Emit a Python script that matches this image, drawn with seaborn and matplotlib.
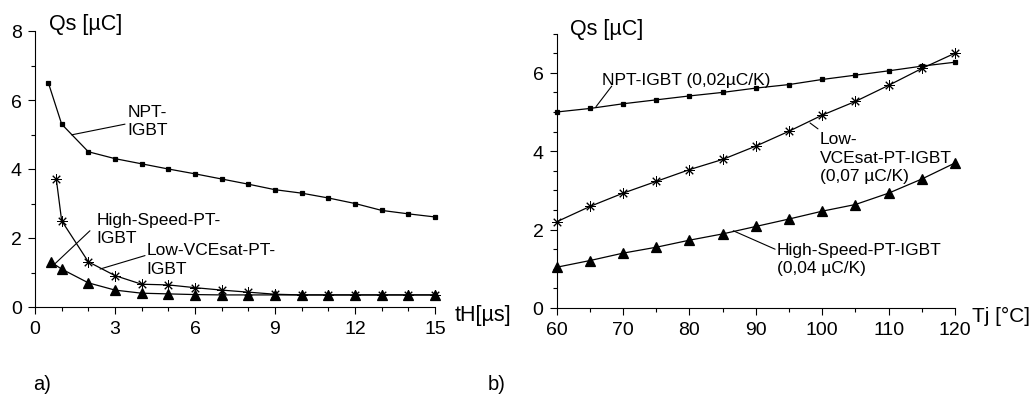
import matplotlib
matplotlib.use("Agg")
import matplotlib.pyplot as plt
import seaborn as sns
from matplotlib.ticker import MultipleLocator, FixedLocator

# ---------------- a) storage charge vs. hold time ----------------
th_npt = [0.5, 1, 2, 3, 4, 5, 6, 7, 8, 9, 10, 11, 12, 13, 14, 15]
qs_npt_th = [6.5, 5.3, 4.5, 4.3, 4.15, 4.0, 3.86, 3.71, 3.56, 3.40, 3.30, 3.16, 3.0, 2.80, 2.70, 2.61]

th_lowv = [0.8, 1, 2, 3, 4, 5, 6, 7, 8, 9, 10, 11, 12, 13, 14, 15]
qs_lowv_th = [3.7, 2.5, 1.31, 0.91, 0.66, 0.64, 0.56, 0.49, 0.43, 0.37, 0.35, 0.35, 0.35, 0.35, 0.35, 0.35]

th_hs = [0.6, 1, 2, 3, 4, 5, 6, 7, 8, 9, 10, 11, 12, 13, 14, 15]
qs_hs_th = [1.3, 1.1, 0.7, 0.49, 0.40, 0.38, 0.36, 0.35, 0.35, 0.35, 0.35, 0.35, 0.35, 0.35, 0.35, 0.35]

th_ticks = [0, 3, 6, 9, 12, 15]
qs_ticks_a = [0, 2, 4, 6, 8]

# ---------------- b) storage charge vs. junction temperature ----------------
tj = [60, 65, 70, 75, 80, 85, 90, 95, 100, 105, 110, 115, 120]
qs_npt_tj = [5.0, 5.09, 5.21, 5.31, 5.41, 5.50, 5.61, 5.70, 5.83, 5.94, 6.05, 6.17, 6.27]
qs_lowv_tj = [2.20, 2.59, 2.93, 3.23, 3.53, 3.79, 4.13, 4.51, 4.92, 5.27, 5.68, 6.11, 6.50]
qs_hs_tj = [1.04, 1.21, 1.40, 1.55, 1.73, 1.89, 2.08, 2.27, 2.47, 2.64, 2.93, 3.29, 3.70]

tj_ticks = [60, 70, 80, 90, 100, 110, 120]
qs_ticks_b = [0, 2, 4, 6]

W, H = 1032, 406
sns.set_theme(style="ticks")
plt.rcParams["font.family"] = ["Liberation Sans", "DejaVu Sans"]
plt.rcParams["axes.linewidth"] = 0.8

fig = plt.figure(figsize=(W / 100, H / 100), dpi=100)
fig.patch.set_facecolor("white")


def box(x0, y_top, x1, y_bot):
    """Axes rectangle from pixel edges (origin at top-left)."""
    return [x0 / W, 1 - y_bot / H, (x1 - x0) / W, (y_bot - y_top) / H]


def ftext(x, y, s, size, **kw):
    fig.text(x / W, 1 - y / H, s, fontsize=size, color="black", **kw)


ax_a = fig.add_axes(box(35, 32, 435, 308))
ax_b = fig.add_axes(box(556.7, 34.6, 955, 309))

LINE = dict(color="black", lw=0.9, markeredgecolor="black", markerfacecolor="black",
            errorbar=None, sort=False, clip_on=False)
STAR = (8, 2, 0)


def series(ax, x, y, marker, ms, mew=0.9):
    sns.lineplot(x=x, y=y, ax=ax, marker=marker, markersize=ms, markeredgewidth=mew, **LINE)


series(ax_a, th_npt, qs_npt_th, "s", 3.2)
series(ax_a, th_lowv, qs_lowv_th, STAR, 7.5, 0.7)
series(ax_a, th_hs, qs_hs_th, "^", 6.5)

series(ax_b, tj, qs_npt_tj, "s", 3.2)
series(ax_b, tj, qs_lowv_tj, STAR, 7.5, 0.7)
series(ax_b, tj, qs_hs_tj, "^", 6.5)

for ax in (ax_a, ax_b):
    ax.set_facecolor("white")
    sns.despine(ax=ax)
    for s in ("left", "bottom"):
        ax.spines[s].set_color("black")
        ax.spines[s].set_linewidth(0.8)
    ax.set_xlabel("")
    ax.set_ylabel("")
    ax.grid(False)
    ax.tick_params(which="major", direction="out", length=5, width=0.8, color="black",
                   labelsize=14, pad=4.5, labelcolor="black")
    ax.tick_params(which="minor", direction="out", length=2.8, width=0.8, color="black")

ax_a.set_xlim(0, 15)
ax_a.set_ylim(0, 8)
ax_a.xaxis.set_major_locator(FixedLocator(th_ticks))
ax_a.set_xticklabels([str(t) for t in th_ticks])
ax_a.xaxis.set_minor_locator(MultipleLocator(1))
ax_a.yaxis.set_major_locator(FixedLocator(qs_ticks_a))
ax_a.set_yticklabels([str(t) for t in qs_ticks_a])
ax_a.yaxis.set_minor_locator(MultipleLocator(1))

ax_b.set_xlim(60, 120)
ax_b.set_ylim(0, 7)
ax_b.xaxis.set_major_locator(FixedLocator(tj_ticks))
ax_b.set_xticklabels([str(t) for t in tj_ticks])
ax_b.xaxis.set_minor_locator(MultipleLocator(5))
ax_b.yaxis.set_major_locator(FixedLocator(qs_ticks_b))
ax_b.set_yticklabels([str(t) for t in qs_ticks_b])
ax_b.yaxis.set_minor_locator(MultipleLocator(0.5))

# curve labels with leader lines
ANN = 12.5
LEAD = dict(arrowstyle="-", lw=0.8, color="black", shrinkA=0, shrinkB=0)


def label(ax, xy_from, xy_to, pos, text):
    ax.annotate("", xy=xy_from, xytext=xy_to, arrowprops=LEAD, annotation_clip=False)
    ax.text(pos[0], pos[1], text, fontsize=ANN, ha="left", va="center",
            linespacing=1.3, color="black", clip_on=False)


label(ax_a, (1.375, 4.99), (3.375, 5.30), (3.48, 5.41), "NPT-\nIGBT")
label(ax_a, (0.675, 1.20), (2.06, 2.21), (2.31, 2.28), "High-Speed-PT-\nIGBT")
label(ax_a, (2.44, 1.10), (4.125, 1.49), (4.19, 1.39), "Low-VCEsat-PT-\nIGBT")

label(ax_b, (65.92, 5.135), (68.29, 5.66), (66.78, 5.84), "NPT-IGBT (0,02µC/K)")
label(ax_b, (98.16, 4.72), (99.36, 4.57), (99.67, 3.85), "Low-\nVCEsat-PT-IGBT\n(0,07 µC/K)")
label(ax_b, (86.6, 1.97), (92.9, 1.50), (93.14, 1.26), "High-Speed-PT-IGBT\n(0,04 µC/K)")

# axis titles
ftext(49, 24.5, "Qs [µC]", 15.5, ha="left", va="center")
ftext(570, 29, "Qs [µC]", 15.5, ha="left", va="center")
ftext(455, 316, "tH[µs]", 15.5, ha="left", va="center")
ftext(972, 316, "Tj [°C]", 15, ha="left", va="center")

# panel tags
ftext(33, 385, "a)", 14.5, ha="left", va="center")
ftext(488, 385, "b)", 14.5, ha="left", va="center")

fig.savefig("out.png", dpi=100, facecolor="white")
